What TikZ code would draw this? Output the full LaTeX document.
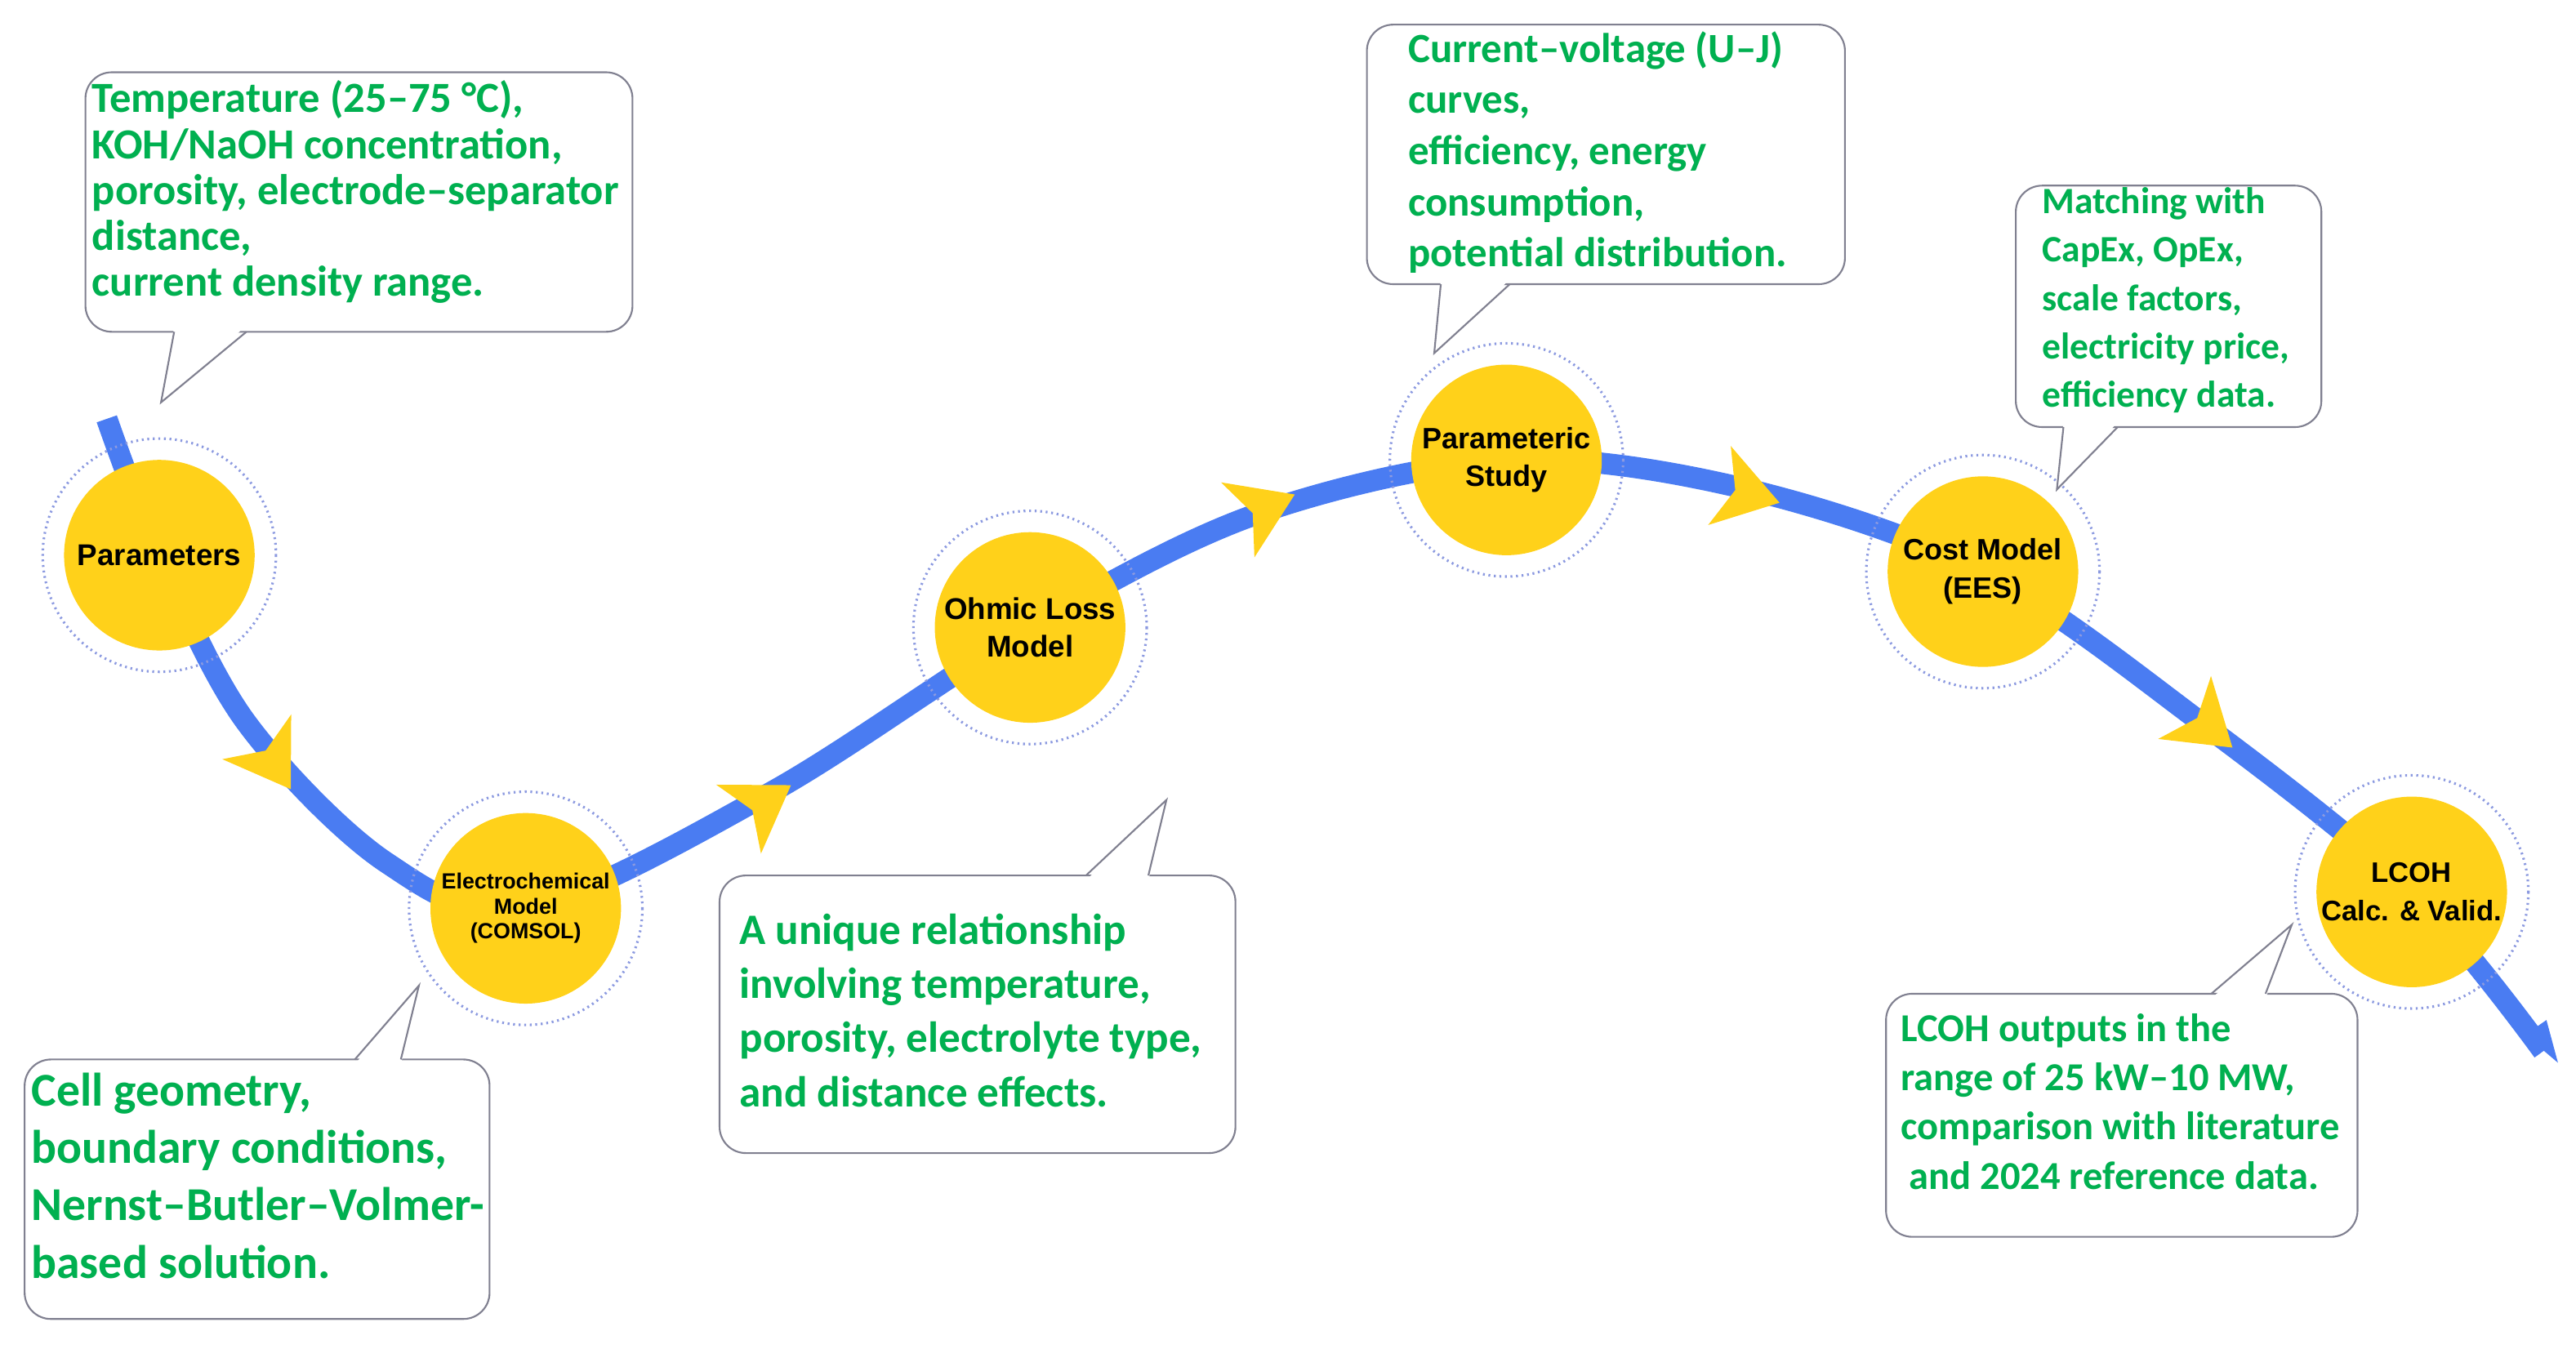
\documentclass[tikz,border=0pt]{standalone}
\usepackage{fontspec}
\setmainfont{Liberation Sans}[Ligatures=TeX]
\newfontfamily\calf{Carlito}[Ligatures=TeX]
\definecolor{flowblue}{HTML}{4A7CF2}
\definecolor{ringc}{HTML}{8C9AE0}
\definecolor{yel}{HTML}{FFD11A}
\definecolor{grn}{HTML}{00B050}
\definecolor{bord}{HTML}{808090}
\begin{document}
\begin{tikzpicture}[x=0.5mm,y=-0.5mm,
  flow/.style={draw=flowblue,line width=6.5mm},
  ring/.style={draw=ringc,dash pattern=on 1.6pt off 3.2pt,line width=2.2pt},
  disc/.style={circle,fill=yel,minimum size=58mm,inner sep=0,align=center,font=\bfseries},
  cb/.style={draw=bord,line width=1.5pt,fill=white,rounded corners=8mm},
  cp/.style={draw=bord,line width=1.5pt},
  gt/.style={anchor=north west,inner sep=0,align=left,text=grn},
  chev/.style={fill=yel}]
\useasboundingbox (0,0) rectangle (1568,821);
% flow curve
\coordinate (s0) at (65,255);
\coordinate (e0) at (1548,640);
\draw[flow] plot[smooth,tension=0.55] coordinates {(s0) (97,338) (150,440) (235,525) (320,553) (470,482) (627,382) (765,313) (917,280) (1060,297) (1207,348) (1340,440) (1468,543) (e0)};
\fill[flowblue] (1537,630) -- (1557,647) -- (1550,621) -- cycle;
% rings
\foreach \n/\x/\y in {p/97/338, e/320/553, o/627/382, s/917/280, c/1207/348, l/1468/543}{
  \draw[ring] (\x,\y) circle (71);}
% chevrons
\foreach \x/\y/\a in {165/462/-57, 463/490/33, 768/310/24, 1062/300/-16, 1342/441/-40}{
  \fill[chev,shift={(\x,\y)},rotate=\a] (22,0) -- (-16,-25) -- (-6,0) -- (-16,25) -- cycle;}
% discs
\node[disc,font=\bfseries\fontsize{26}{28}\selectfont] (par) at (97,338) {Parameters};
\node[disc,font=\bfseries\fontsize{19}{21.5}\selectfont] (ele) at (320,553) {Electrochemical\\Model\\(COMSOL)};
\node[disc,font=\bfseries\fontsize{26}{33}\selectfont] (ohm) at (627,382) {Ohmic Loss\\Model};
\node[disc,font=\bfseries\fontsize{25.5}{33}\selectfont] (pst) at (917,280) {Parameteric\\Study};
\node[disc,font=\bfseries\fontsize{25.5}{33}\selectfont] (cst) at (1207,348) {Cost Model\\(EES)};
\node[disc,font=\bfseries\fontsize{24.5}{33}\selectfont] (lco) at (1468,543) {LCOH\\Calc. \& Valid.};
% callout 1
\draw[cb] (52,44) rectangle (385,202);
\coordinate (t1) at (98,245);
\fill[white] (106,199) -- (t1) -- (149,199) -- cycle;
\draw[cp] (106,202) -- (t1) -- (150,202);
\node[gt,font=\calf\bfseries\fontsize{37.2}{39.8}\selectfont] (c1) at (56,49) {Temperature (25–75 °C),\\KOH/NaOH concentration,\\porosity, electrode–separator\\distance,\\current density range.};
% callout 2
\draw[cb] (15,645) rectangle (298,803);
\coordinate (t2) at (255,600);
\fill[white] (216,648) -- (t2) -- (244,648) -- cycle;
\draw[cp] (216,645) -- (t2) -- (244,645);
\node[gt,font=\calf\bfseries\fontsize{40.8}{49.7}\selectfont] (c2) at (19,653) {Cell geometry,\\boundary conditions,\\Nernst–Butler–Volmer-\\based solution.};
% callout 3
\draw[cb] (438,533) rectangle (752,702);
\coordinate (t3) at (710,487);
\fill[white] (661,536) -- (t3) -- (699,536) -- cycle;
\draw[cp] (661,533) -- (t3) -- (699,533);
\node[gt,font=\calf\bfseries\fontsize{37.6}{46.9}\selectfont] (c3) at (450,556) {A unique relationship\\involving temperature,\\porosity, electrolyte type,\\and distance effects.};
% callout 4
\draw[cb] (832,15) rectangle (1123,173);
\coordinate (t4) at (873,215);
\fill[white] (877,170) -- (t4) -- (919,170) -- cycle;
\draw[cp] (877,173) -- (t4) -- (919,173);
\node[gt,font=\calf\bfseries\fontsize{36}{44.3}\selectfont] (c4) at (857,19) {Current–voltage (U–J)\\curves,\\efficiency, energy\\consumption,\\potential distribution.};
% callout 5
\draw[cb] (1227,113) rectangle (1413,260);
\coordinate (t5) at (1252,298);
\fill[white] (1256,257) -- (t5) -- (1289,257) -- cycle;
\draw[cp] (1256,260) -- (t5) -- (1289,260);
\node[gt,font=\calf\bfseries\fontsize{32.2}{41.9}\selectfont] (c5) at (1243,114) {Matching with\\CapEx, OpEx,\\scale factors,\\electricity price,\\efficiency data.};
% callout 6
\draw[cb] (1148,605) rectangle (1435,753);
\coordinate (t6) at (1395,563);
\fill[white] (1346,608) -- (t6) -- (1379,608) -- cycle;
\draw[cp] (1346,605) -- (t6) -- (1379,605);
\node[gt,font=\calf\bfseries\fontsize{34.3}{42.6}\selectfont] (c6) at (1157,617) {LCOH outputs in the\\range of 25 kW–10 MW,\\comparison with literature\\\hspace*{2.5mm}and 2024 reference data.};
\end{tikzpicture}
\end{document}
